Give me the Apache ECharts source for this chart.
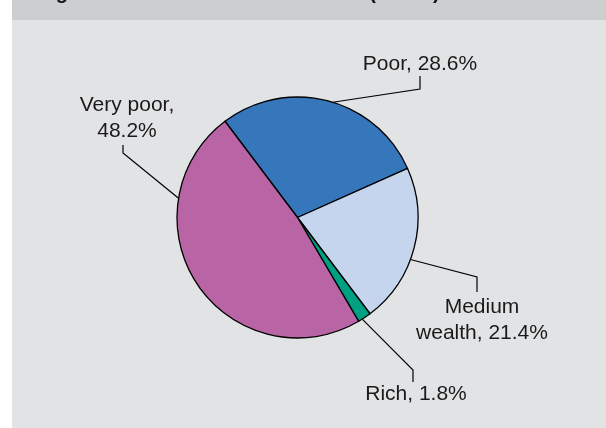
<!DOCTYPE html>
<html>
<head>
<meta charset="utf-8">
<script src="https://cdn.jsdelivr.net/npm/echarts@6/dist/echarts.min.js"></script>
<style>
  html, body { margin: 0; padding: 0; background: #ffffff; }
  #chart { width: 606px; height: 428px; }
</style>
</head>
<body>
<div id="chart"></div>
<script>
// Wealth groups and their shares (%)
const categories = ['Poor', 'Medium wealth', 'Rich', 'Very poor'];
const shares = [28.6, 21.4, 1.8, 48.2];
const sliceColors = ['#3677bb', '#c5d5ee', '#00a083', '#b965a5'];
const labelTexts = ['Poor, 28.6%', 'Medium\nwealth, 21.4%', 'Rich, 1.8%', 'Very poor,\n48.2%'];

// Pie geometry
const CX = 297.5, CY = 217.5, R = 120.5;

// Callout placement: edge angle (deg, counter-clockwise from 3 o'clock),
// elbow point, end of vertical stub, and label anchor.
const callouts = [
  { angle: 73,    elbow: [420, 89],  stub: [420, 76],  label: [420, 64],  va: 'middle' },
  { angle: -20.4, elbow: [477, 277], stub: [477, 292], label: [482, 320], va: 'middle' },
  { angle: -57.5, elbow: [413, 370], stub: [413, 382], label: [416, 394], va: 'middle' },
  { angle: 170.8, elbow: [123, 153], stub: [123, 145], label: [127, 118], va: 'middle' }
];

function edgePoint(deg) {
  const a = deg * Math.PI / 180;
  return [CX + R * Math.cos(a), CY - R * Math.sin(a)];
}

const chart = echarts.init(document.getElementById('chart'), null, { renderer: 'canvas' });

chart.setOption({
  animation: false,
  backgroundColor: '#ffffff',
  title: {
    text: 'Figure 1: Household wealth status (n=500)',
    left: 38,
    top: -17,
    padding: 0,
    textStyle: {
      fontFamily: 'Arial, "Liberation Sans", sans-serif',
      fontWeight: 'bold',
      fontSize: 20,
      color: '#111111'
    }
  },
  graphic: [
    { type: 'rect', z: -10, shape: { x: 12, y: 0, width: 594, height: 20 }, style: { fill: '#cdced0' } },
    { type: 'rect', z: -10, shape: { x: 12, y: 20, width: 594, height: 408 }, style: { fill: '#e2e3e5' } }
  ],
  series: [{
    type: 'pie',
    center: [CX, CY],
    radius: R,
    startAngle: 127,
    clockwise: true,
    avoidLabelOverlap: false,
    itemStyle: { borderColor: '#000000', borderWidth: 1.3 },
    label: {
      show: true,
      formatter: (p) => labelTexts[p.dataIndex],
      fontFamily: 'Arial, "Liberation Sans", sans-serif',
      fontSize: 21,
      lineHeight: 26,
      color: '#1a1a1a',
      align: 'center'
    },
    labelLine: {
      show: true,
      lineStyle: { color: '#000000', width: 1.2 }
    },
    labelLayout: (params) => {
      const c = callouts[params.dataIndex];
      return {
        x: c.label[0],
        y: c.label[1],
        align: 'center',
        verticalAlign: c.va,
        labelLinePoints: [edgePoint(c.angle), c.elbow, c.stub]
      };
    },
    data: categories.map((name, i) => ({
      name: name,
      value: shares[i],
      itemStyle: { color: sliceColors[i] }
    }))
  }]
});
</script>
</body>
</html>
